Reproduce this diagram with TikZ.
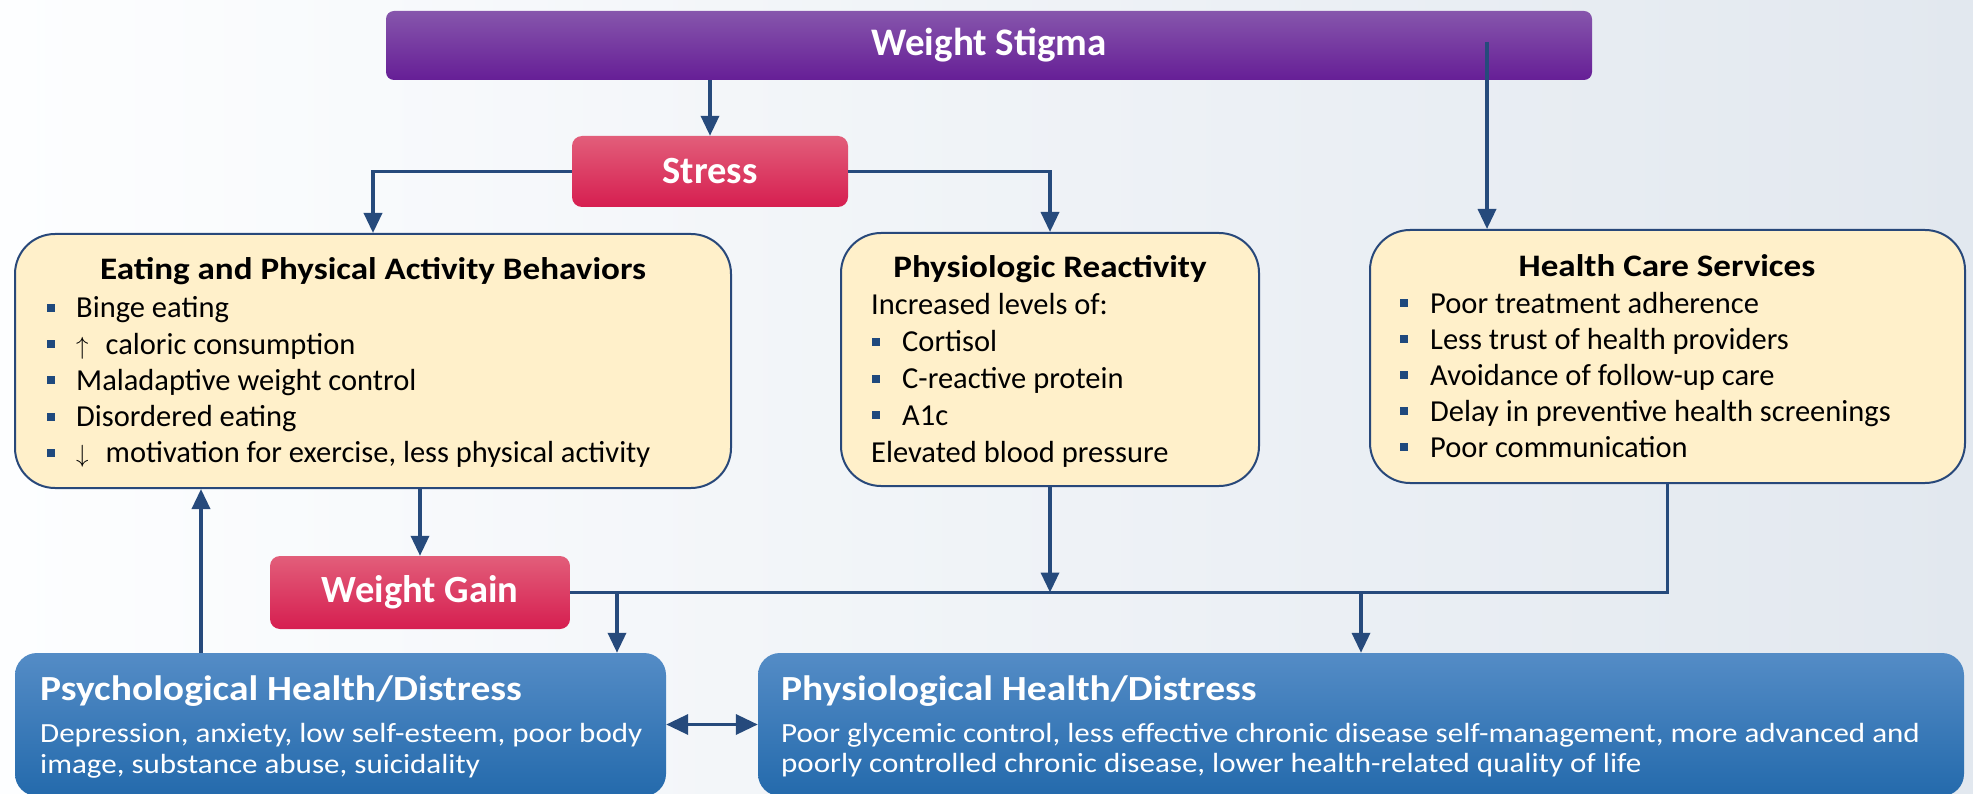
\documentclass[tikz,border=0pt]{standalone}
\usepackage{fontspec}
\setmainfont{Carlito}
\newfontfamily\widefont{Carlito}[FakeStretch=1.12]
\usepackage{xcolor}
\usepackage{tikz}
\usetikzlibrary{arrows.meta}

\definecolor{stigmaTop}{RGB}{134,86,172}
\definecolor{stigmaBot}{RGB}{102,30,150}
\definecolor{redTop}{RGB}{226,94,122}
\definecolor{redBot}{RGB}{214,30,80}
\definecolor{cream}{RGB}{255,240,202}
\definecolor{edgec}{RGB}{40,72,122}
\definecolor{blueTop}{RGB}{84,140,198}
\definecolor{blueBot}{RGB}{36,106,172}
\definecolor{linkc}{RGB}{38,74,124}
\definecolor{bgL}{RGB}{253,254,255}
\definecolor{bgR}{RGB}{226,232,239}
\definecolor{bulc}{RGB}{31,73,125}

\newcommand{\bul}[1][29pt]{\makebox[#1][l]{\raisebox{6pt}{\textcolor{bulc}{\rule{8pt}{8pt}}}}}

\begin{document}
\begin{tikzpicture}[x=1pt,y=-1pt,inner sep=0pt,
    flow/.style={draw=linkc,line width=3.5pt,-{Triangle[length=20pt,width=18pt]}},
    link/.style={draw=linkc,line width=3.5pt}]
    \tikzset{stigmabox/.style={rounded corners=8pt,top color=stigmaTop,bottom color=stigmaBot,text=white,font=\bfseries\fontsize{39}{46}\selectfont},
             redbox/.style={rounded corners=10pt,top color=redTop,bottom color=redBot,text=white,font=\bfseries\fontsize{38.5}{46}\selectfont},
             yelbox/.style={draw=edgec,line width=2pt,fill=cream,rounded corners=40pt},
             bluebox/.style={rounded corners=22pt,top color=blueTop,bottom color=blueBot},
             ytitle/.style={anchor=base,font=\widefont\bfseries\fontsize{31.3}{37}\selectfont},
             yitem/.style={anchor=base west,font=\fontsize{30.5}{36}\selectfont},
             btitle/.style={anchor=base west,text=white,font=\widefont\bfseries\fontsize{35.3}{42}\selectfont},
             bbody/.style={anchor=base west,text=white,font=\widefont\fontsize{27.7}{31}\selectfont}}
    \useasboundingbox (0,0) rectangle (1973,794);
    \clip (0,0) rectangle (1973,794);
    \shade[left color=bgL,right color=bgR] (0,0) rectangle (1973,794);

    % boxes
    \node[stigmabox,minimum width=1206pt,minimum height=69pt] (stigma) at (989,45.5) {Weight Stigma};
    \node[redbox,minimum width=276pt,minimum height=71pt] (stress) at (710,171.5) {Stress};
    \node[yelbox,minimum width=716pt,minimum height=254pt] (eating) at (373,361) {};
    \node[yelbox,minimum width=418pt,minimum height=253pt] (physio) at (1050,359.5) {};
    \node[yelbox,minimum width=595pt,minimum height=253pt] (care) at (1667.5,356.5) {};
    \node[redbox,minimum width=300pt,minimum height=73pt] (gain) at (420,592.5) {Weight Gain};
    \node[bluebox,minimum width=651pt,minimum height=143pt] (psych) at (340.5,724.5) {};
    \node[bluebox,minimum width=1206pt,minimum height=143pt] (phys) at (1361,724.5) {};

    % box texts
    \node[ytitle] (eatingT) at (373,280) {Eating and Physical Activity Behaviors};
    \foreach \t [count=\i] in {Binge eating, {$\uparrow$\hspace{17pt}caloric consumption}, Maladaptive weight control,
        Disordered eating, {$\downarrow$\hspace{17pt}motivation for exercise, less physical activity}}
        \node[yitem] (eating\i) at (47,318+36.2*\i-36.2) {\bul\t};

    \node[ytitle] (physioT) at (1050,278) {Physiologic Reactivity};
    \node[yitem] (physio0) at (871,315) {Increased levels of:};
    \foreach \t [count=\i] in {Cortisol, C-reactive protein, A1c}
        \node[yitem] (physio\i) at (872,352+36.5*\i-36.5) {\bul[30pt]\t};
    \node[yitem] (physio4) at (871,462) {Elevated blood pressure};

    \node[ytitle] (careT) at (1667,277) {Health Care Services};
    \foreach \t [count=\i] in {Poor treatment adherence, Less trust of health providers, Avoidance of follow-up care,
        Delay in preventive health screenings, Poor communication}
        \node[yitem] (care\i) at (1400,313+36*\i-36) {\bul[30pt]\t};

    \node[btitle] (psychT) at (40,700) {Psychological Health/Distress};
    \node[bbody] (psych1) at (40,742) {Depression, anxiety, low self-esteem, poor body};
    \node[bbody] (psych2) at (40,773) {image, substance abuse, suicidality};
    \node[btitle] (physT) at (781,700) {Physiological Health/Distress};
    \node[bbody] (phys1) at (781,742) {Poor glycemic control, less effective chronic disease self-management, more advanced and};
    \node[bbody] (phys2) at (781,772) {poorly controlled chronic disease, lower health-related quality of life};

    % connectors
    \coordinate (stigmaTap) at (1487,42);
    \coordinate (upCol) at (201,0);
    \coordinate (psychCol) at (617,0);
    \path[flow] (stress.north |- stigma.south) -- (stress.north);
    \path[flow] (stress.west) -| (eating.north);
    \path[flow] (stress.east) -| (physio.north);
    \path[flow] (stigmaTap) -- (stigmaTap |- care.north);
    \path[flow] (gain.north |- eating.south) -- (gain.north);
    \path[flow] (psych.north -| upCol) -- (eating.south -| upCol);
    \path[link] (gain.east) -| (care.south);
    \path[flow] (physio.south) -- (physio.south |- gain.east);
    \path[flow] (phys.north |- gain.east) -- (phys.north);
    \path[flow] (psychCol |- gain.east) -- (psych.north -| psychCol);
    \path[flow,{Triangle[length=22pt,width=20pt]}-{Triangle[length=22pt,width=20pt]}] (psych.east) -- (phys.west);
\end{tikzpicture}
\end{document}
